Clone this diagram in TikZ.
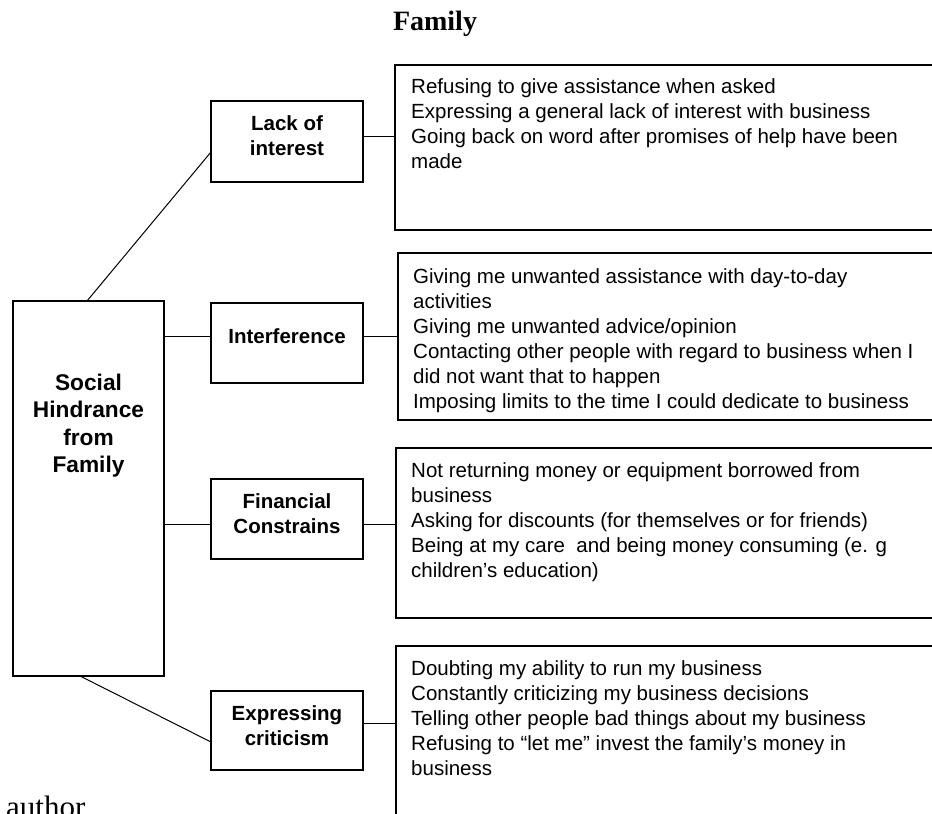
\documentclass[tikz,border=0pt]{standalone}
\usepackage{fontspec}
\setmainfont{Liberation Serif}
\setsansfont{Liberation Sans}
\usetikzlibrary{calc}

% rows of text whose baseline is the first row
\newcommand\textrows[2]{\begin{tabular}[t]{@{}#1@{}}#2\end{tabular}}

\tikzset{
  box/.style={draw=black, line width=1.4pt, inner sep=0pt, outer sep=0pt},
  link/.style={draw=black, line width=1pt},
  lbl/.style={inner sep=0pt, anchor=base, font=\sffamily\bfseries\fontsize{20.5}{25}\selectfont},
  mainlbl/.style={inner sep=0pt, anchor=base, font=\sffamily\bfseries\fontsize{22.7}{27.6}\selectfont},
  items/.style={inner sep=0pt, anchor=base west, font=\sffamily\fontsize{20.5}{25}\selectfont},
}

\begin{document}
\begin{tikzpicture}[x=1pt, y=-1pt]
  \clip (0,0) rectangle (932,814);
  \useasboundingbox (0,0) rectangle (932,814);

  % heading and footer
  \node[inner sep=0pt, anchor=base, font=\bfseries\fontsize{28}{32}\selectfont] (title) at (435,30) {Family};
  \node[inner sep=0pt, anchor=base west, font=\fontsize{31}{36}\selectfont] (author) at (6,817) {author};

  % central box
  \node[box, minimum width=151, minimum height=375] (main) at (88.5,488.5) {};
  \node[mainlbl] (mainT) at (88.5,390) {\textrows{c}{Social\\Hindrance\\from\\Family}};

  % category boxes
  \node[box, minimum width=152, minimum height=81] (lack) at (287,141.5) {};
  \node[lbl] (lackT) at (287,130) {\textrows{c}{Lack of\\interest}};

  \node[box, minimum width=152, minimum height=80] (intf) at (287,343) {};
  \node[lbl] (intfT) at (287,343) {Interference};

  \node[box, minimum width=152, minimum height=80] (fin) at (287,519) {};
  \node[lbl] (finT) at (287,508) {\textrows{c}{Financial\\Constrains}};

  \node[box, minimum width=152, minimum height=79] (crit) at (287,730.5) {};
  \node[lbl] (critT) at (287,720) {\textrows{c}{Expressing\\criticism}};

  % detail boxes, running off the right edge
  \node[box, anchor=west, minimum width=600, minimum height=165] (lackR) at (395,147.5) {};
  \node[items] (lackL) at (411,93) {\textrows{l}{%
    Refusing to give assistance when asked\\
    Expressing a general lack of interest with business\\
    Going back on word after promises of help have been\\
    made}};

  \node[box, anchor=west, minimum width=600, minimum height=167] (intfR) at (398,336.5) {};
  \node[items] (intfL) at (413,283) {\textrows{l}{%
    Giving me unwanted assistance with day-to-day\\
    activities\\
    Giving me unwanted advice/opinion\\
    Contacting other people with regard to business when I\\
    did not want that to happen\\
    Imposing limits to the time I could dedicate to business}};

  \node[box, anchor=west, minimum width=600, minimum height=170] (finR) at (396,533) {};
  \node[items] (finL) at (411,477) {\textrows{l}{%
    Not returning money or equipment borrowed from\\
    business\\
    Asking for discounts (for themselves or for friends)\\
    Being at my care~ and being money consuming (e. g\\
    children’s education)}};

  \node[box, anchor=west, minimum width=600, minimum height=220] (critR) at (396,756) {};
  \node[items] (critL) at (411,675) {\textrows{l}{%
    Doubting my ability to run my business\\
    Constantly criticizing my business decisions\\
    Telling other people bad things about my business\\
    Refusing to “let me” invest the family’s money in\\
    business}};

  % central box to categories
  \draw[link] ($(main.north west)+(74,0)$) -- ($(lack.south west)+(0,-30)$);
  \draw[link] (main.east |- 0,336) -- (intf.west |- 0,336);
  \draw[link] (main.east |- 0,524) -- (fin.west |- 0,524);
  \draw[link] ($(main.south west)+(67,0)$) -- ($(crit.south west)+(0,-28)$);

  % categories to details
  \draw[link] (lack.east |- 0,136) -- (lackR.west |- 0,136);
  \draw[link] (intf.east |- 0,336) -- (intfR.west |- 0,336);
  \draw[link] (fin.east |- 0,524) -- (finR.west |- 0,524);
  \draw[link] (crit.east |- 0,723) -- (critR.west |- 0,723);
\end{tikzpicture}
\end{document}
